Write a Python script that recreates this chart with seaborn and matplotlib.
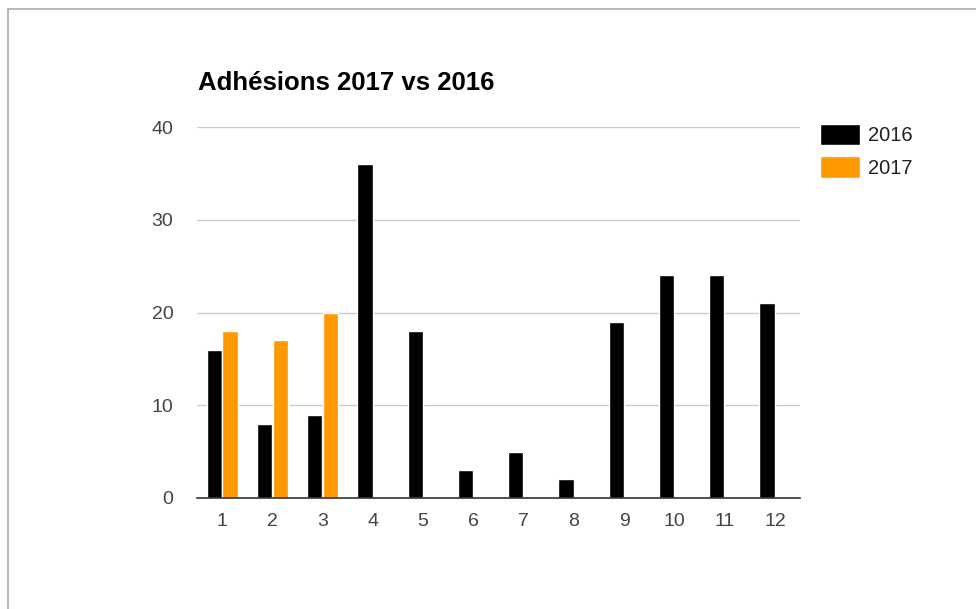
import matplotlib
matplotlib.use("Agg")
import matplotlib.pyplot as plt
import seaborn as sns
import pandas as pd
from matplotlib.patches import Rectangle

months = [str(m) for m in range(1, 13)]
values_2016 = [16, 8, 9, 36, 18, 3, 5, 2, 19, 24, 24, 21]
values_2017 = [18, 17, 20, None, None, None, None, None, None, None, None, None]
series = ["2016", "2017"]
colors = ["#000000", "#ff9900"]
title = "Adhésions 2017 vs 2016"
yticks = [0, 10, 20, 30, 40]

rows = []
for m, v in zip(months, values_2016):
    rows.append({"mois": m, "année": "2016", "valeur": v})
for m, v in zip(months, values_2017):
    rows.append({"mois": m, "année": "2017", "valeur": v})
df = pd.DataFrame(rows)

sns.set_theme(style="white")
plt.rcParams["font.family"] = ["Liberation Sans", "DejaVu Sans"]

fig = plt.figure(figsize=(9.76, 6.09), dpi=100)
ax = fig.add_axes([197 / 976, 1 - 498 / 609, 603 / 976, 371 / 609])

sns.barplot(data=df, x="mois", y="valeur", hue="année", order=months,
            hue_order=series, palette=colors, width=0.63, gap=0.03,
            saturation=1, ax=ax, legend=True)

ax.set_ylim(0, 40)
ax.set_yticks(yticks)
ax.set_xlim(-0.5, 11.5)
ax.yaxis.grid(True, color="#cccccc", linewidth=1)
ax.set_axisbelow(True)
for s in ["left", "right", "top"]:
    ax.spines[s].set_visible(False)
ax.spines["bottom"].set_color("#333333")
ax.spines["bottom"].set_linewidth(1.2)
ax.set_xlabel("")
ax.set_ylabel("")
ax.tick_params(axis="both", length=0, labelsize=14, labelcolor="#444444")
ax.tick_params(axis="y", pad=17)
ax.tick_params(axis="x", pad=11)

handles, labels = ax.get_legend_handles_labels()
ax.legend(handles, labels, loc="upper left",
          bbox_to_anchor=(820 / 976, 1 - 124 / 609),
          bbox_transform=fig.transFigure, frameon=False,
          fontsize=14.5, handlelength=2.0, handleheight=1.25,
          labelspacing=0.55, handletextpad=0.4, borderpad=0,
          borderaxespad=0, labelcolor="#222222")

fig.text(198 / 976, 1 - 83 / 609, title, fontsize=18.5, fontweight="bold",
         color="#000000", ha="left", va="center")

fig.patches.append(Rectangle((8 / 976, -0.1), 1.2, (1 - 9 / 609) + 0.1,
                             transform=fig.transFigure, fill=False,
                             edgecolor="#aaaaaa", linewidth=1.2))

fig.savefig("out.png", dpi=100, facecolor="white")
